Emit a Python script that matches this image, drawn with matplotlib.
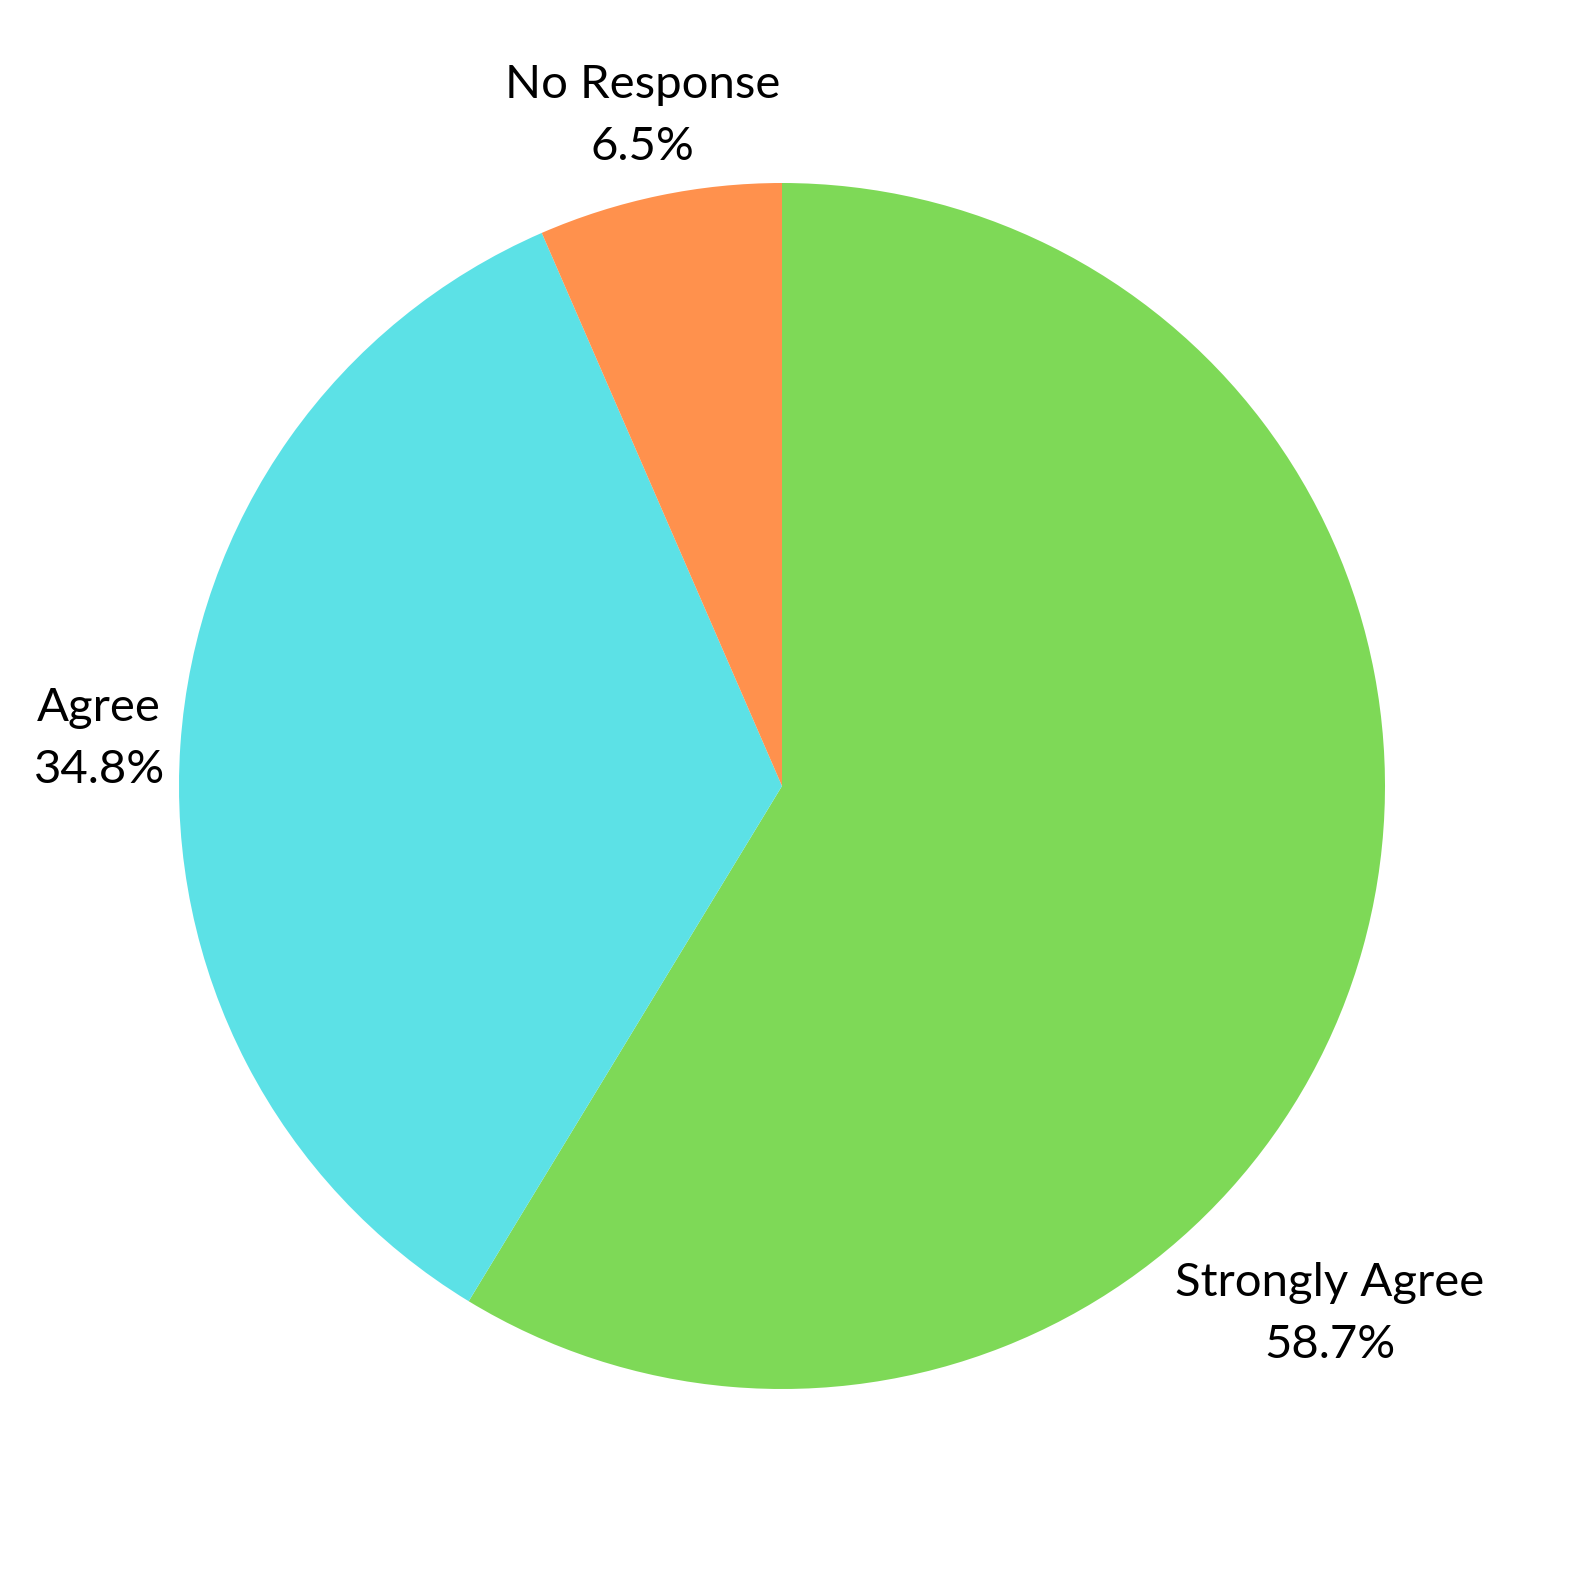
import matplotlib.pyplot as plt

# survey responses (46 total)
categories = ['Strongly Agree', 'Agree', 'No Response']
counts = [27, 16, 3]
colors = ['#7ED957', '#5CE1E6', '#FF914D']

plt.rcParams['font.family'] = ['Lato', 'DejaVu Sans']

fig = plt.figure(figsize=(15.8, 15.8), dpi=100)
ax = fig.add_axes([0, 0, 1, 1])

total = sum(counts)
labels = [f'{c}\n{n / total * 100:.1f}%' for c, n in zip(categories, counts)]

wedges, texts = ax.pie(
    counts,
    labels=labels,
    colors=colors,
    startangle=90,
    counterclock=False,
    center=(782, 794),
    radius=603,
    labeldistance=1.135,
    frame=True,
    textprops=dict(fontsize=34, ha='center', va='center', linespacing=1.6),
)
ax.set_xlim(0, 1580)
ax.set_ylim(0, 1580)
ax.set_aspect('equal')
ax.axis('off')

# the big slice's label sits further out, towards the lower right
texts[0].set_position((1330, 1580 - 1314))
for t in texts:
    t.set_ha('center')
    t.set_multialignment('center')

fig.savefig('out.png', dpi=100)
